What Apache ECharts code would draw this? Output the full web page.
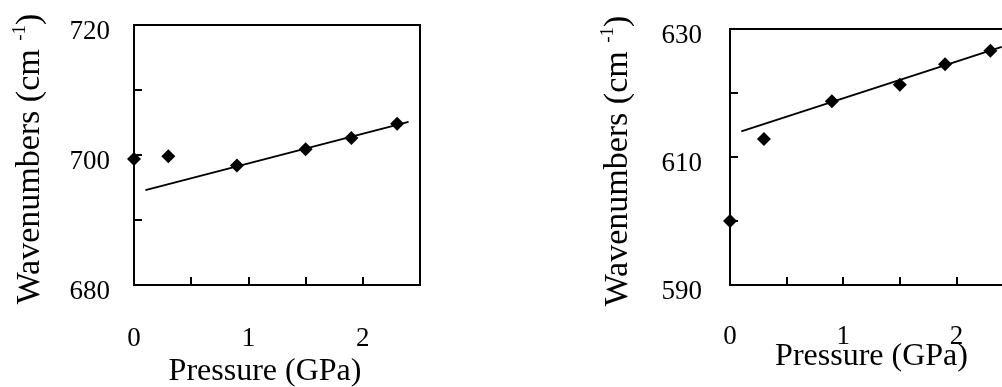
<!DOCTYPE html>
<html>
<head>
<meta charset="utf-8">
<script src="https://cdn.jsdelivr.net/npm/echarts@6/dist/echarts.min.js"></script>
<style>
html, body { margin: 0; padding: 0; background: #fff; }
#chart { width: 1002px; height: 387px; }
</style>
</head>
<body>
<div id="chart"></div>
<script>
// pressure (GPa) of the measured points
const pressure = [0, 0.3, 0.9, 1.5, 1.9, 2.3];
// left panel wavenumbers
const leftWave = [699.4, 699.8, 698.4, 700.9, 702.6, 704.8];
// right panel wavenumbers
const rightWave = [600.0, 612.8, 618.7, 621.3, 624.5, 626.6];
// linear fit end points
const fitX = [0.1, 2.4];
const leftFitY = [694.6, 705.1];
const rightFitY = [614.0, 627.2];
// tick labels
const xTickLabels = [0, 1, 2];
const leftYLabels = [680, 700, 720];
const rightYLabels = [590, 610, 630];

var chartDom = document.getElementById('chart');
var myChart = echarts.init(chartDom);
var font = 'Liberation Serif';

function pairs(xs, ys) {
    return xs.map(function (x, i) { return [x, ys[i]]; });
}

function xAxisOf(gridIndex, nameGap, namePad, labelMargin) {
    return {
        gridIndex: gridIndex,
        type: 'value',
        min: 0,
        max: 2.5,
        interval: 0.5,
        name: 'Pressure (GPa)',
        nameLocation: 'middle',
        nameGap: nameGap,
        nameMoveOverlap: false,
        nameTextStyle: {
            fontFamily: font,
            fontSize: 32,
            color: '#000',
            padding: namePad
        },
        axisLine: { onZero: false, lineStyle: { color: '#000', width: 2 } },
        axisTick: { inside: true, length: 8, lineStyle: { color: '#000', width: 2 } },
        axisLabel: {
            margin: labelMargin,
            fontFamily: font,
            fontSize: 27,
            color: '#000',
            formatter: function (v) {
                return xTickLabels.indexOf(v) >= 0 ? String(v) : '';
            }
        },
        splitLine: { show: false }
    };
}

function yAxisOf(gridIndex, min, max, labels, nameGap, margin) {
    return {
        gridIndex: gridIndex,
        type: 'value',
        min: min,
        max: max,
        interval: 10,
        name: 'Wavenumbers (cm {s|-1})',
        nameLocation: 'middle',
        nameGap: nameGap,
        nameMoveOverlap: false,
        nameTextStyle: {
            fontFamily: font,
            fontSize: 34,
            color: '#000',
            padding: [0, 8, 0, 0],
            rich: {
                s: {
                    fontFamily: font,
                    fontSize: 19,
                    color: '#000',
                    verticalAlign: 'top',
                    padding: [0, 0, 20, 0]
                }
            }
        },
        axisLine: { onZero: false, lineStyle: { color: '#000', width: 2 } },
        axisTick: { inside: true, length: 8, lineStyle: { color: '#000', width: 2 } },
        axisLabel: {
            margin: margin,
            color: '#000',
            formatter: function (v) {
                return labels.indexOf(v) >= 0 ? '{n|' + v + '}' : '';
            },
            rich: {
                n: {
                    fontFamily: font,
                    fontSize: 27,
                    color: '#000',
                    padding: [14, 0, 0, 0]
                }
            }
        },
        splitLine: { show: false }
    };
}

function scatterOf(idx, ys) {
    return {
        type: 'scatter',
        xAxisIndex: idx,
        yAxisIndex: idx,
        symbol: 'diamond',
        symbolSize: 14,
        clip: false,
        itemStyle: { color: '#000', opacity: 1 },
        data: pairs(pressure, ys)
    };
}

function fitOf(idx, ys) {
    return {
        type: 'line',
        xAxisIndex: idx,
        yAxisIndex: idx,
        showSymbol: false,
        symbol: 'none',
        lineStyle: { color: '#000', width: 2 },
        data: pairs(fitX, ys)
    };
}

var option = {
    animation: false,
    backgroundColor: '#fff',
    grid: [
        { left: 134, top: 25, width: 286, height: 260, show: true, borderColor: '#000', borderWidth: 2, outerBoundsMode: 'none' },
        { left: 730, top: 29, right: -11, bottom: 102, show: true, borderColor: '#000', borderWidth: 2, outerBoundsMode: 'none' }
    ],
    xAxis: [
        xAxisOf(0, 71, [0, 24, 0, 0], 40),
        xAxisOf(1, 56, [0, 0, 0, 0], 38)
    ],
    yAxis: [
        yAxisOf(0, 680, 720, leftYLabels, 84, 24),
        yAxisOf(1, 590, 630, rightYLabels, 92, 28)
    ],
    series: [
        fitOf(0, leftFitY),
        scatterOf(0, leftWave),
        fitOf(1, rightFitY),
        scatterOf(1, rightWave)
    ]
};

option && myChart.setOption(option);
window.addEventListener('resize', function () {
    myChart.resize();
});
</script>
</body>
</html>
